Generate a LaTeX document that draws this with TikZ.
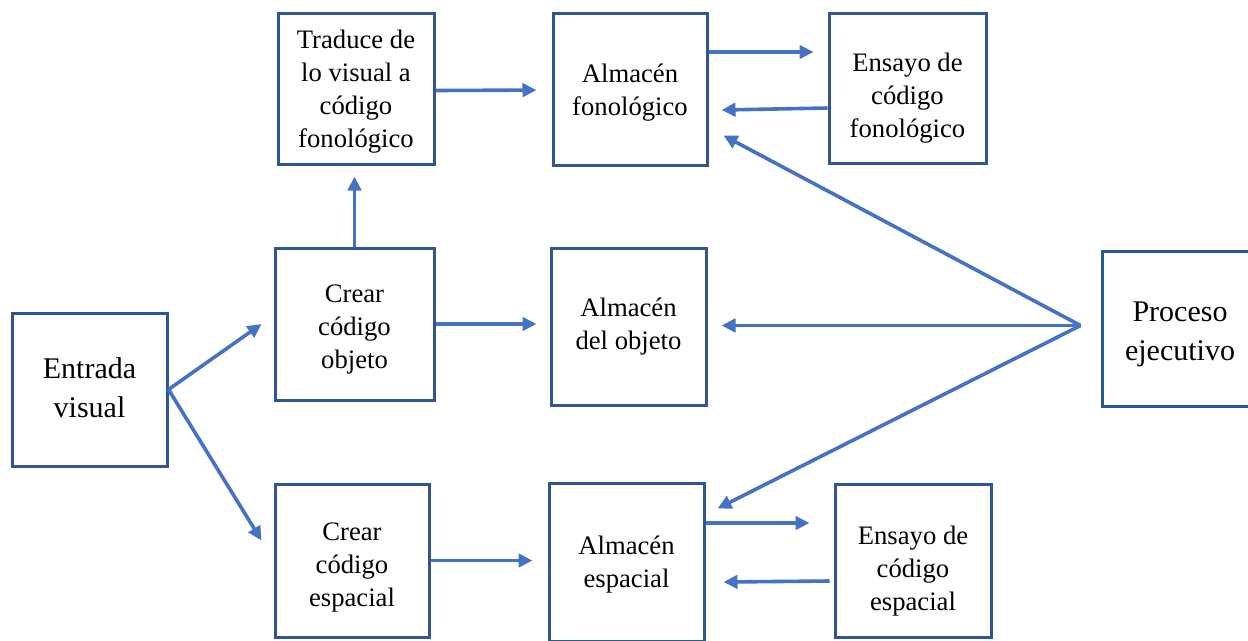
\documentclass[tikz,border=0pt]{standalone}
\usepackage{fontspec}
\setmainfont{Liberation Serif}
\usetikzlibrary{arrows.meta,calc}
\definecolor{boxblue}{HTML}{2F5597}
\definecolor{arrowblue}{HTML}{4472C4}
\begin{document}
\begin{tikzpicture}[x=0.75pt,y=-0.75pt,
  box/.style={draw=boxblue,line width=2.25pt,fill=white,inner sep=0pt},
  txt/.style={align=center,inner sep=0pt,font=\fontsize{20}{24.75}\selectfont},
  bigtxt/.style={txt,font=\fontsize{22.5}{29}\selectfont},
  arr/.style={draw=arrowblue,line width=2.7pt,-{Triangle[length=10.5pt,width=10pt]}}]
\useasboundingbox (0,0) rectangle (1248,640);
\clip (0,0) rectangle (1248,640);

% boxes
\node[box,minimum width=116.25pt,minimum height=114.75pt] (ent) at (89.5,389.5) {};
\node[box,minimum width=117pt,minimum height=113.25pt] (trad) at (356,88.5) {};
\node[box,minimum width=119.25pt,minimum height=114pt] (cobj) at (354.5,324) {};
\node[box,minimum width=115.5pt,minimum height=114.75pt] (cesp) at (352,560.5) {};
\node[box,minimum width=115.5pt,minimum height=114pt] (afon) at (630,89) {};
\node[box,minimum width=116.25pt,minimum height=117.75pt] (aobj) at (628.5,326.5) {};
\node[box,minimum width=116.25pt,minimum height=118.5pt] (aesp) at (626.5,562) {};
\node[box,minimum width=117.75pt,minimum height=112.5pt] (efon) at (907.5,88) {};
\node[box,minimum width=117pt,minimum height=114.75pt] (eesp) at (913,560.5) {};
\node[box,minimum width=117pt,minimum height=116.25pt] (proc) at (1180,328.5) {};

% box texts
\node[bigtxt] (ent-t) at ($(ent)+(0,-2)$) {Entrada\\visual};
\node[txt] (trad-t) at ($(trad)+(0,3)$) {Traduce de\\lo visual a\\código\\fonológico};
\node[txt] (cobj-t) at ($(cobj)+(0,6)$) {Crear\\código\\objeto};
\node[txt] (cesp-t) at ($(cesp)+(0,6.5)$) {Crear\\código\\espacial};
\node[txt] (afon-t) at ($(afon)+(0,3.5)$) {Almacén\\fonológico};
\node[txt] (aobj-t) at ($(aobj)+(0,0.5)$) {Almacén\\del objeto};
\node[txt] (aesp-t) at ($(aesp)+(0,3)$) {Almacén\\espacial};
\node[txt] (efon-t) at ($(efon)+(0,10)$) {Ensayo de\\código\\fonológico};
\node[txt] (eesp-t) at ($(eesp)+(0,11)$) {Ensayo de\\código\\espacial};
\node[bigtxt] (proc-t) at ($(proc)+(0,6)$) {Proceso\\ejecutivo};

% input fan-out
\draw[arr] (ent.east) -- ($(cobj.west)+(-12,0)$);
\draw[arr] (ent.east) -- ($(cesp.west)+(-12,-20)$);

% coding to stores
\draw[arr,shorten >=8.25pt] (cobj.north) -- (cobj.north |- trad.south);
\draw[arr,shorten >=11.25pt] ($(trad.east)+(0,2)$) -- ($(afon.west)+(0,1)$);
\draw[arr,shorten >=9.75pt] (cobj.east) -- (cobj.east -| aobj.west);
\draw[arr,shorten >=11.25pt] (cesp.east) -- (cesp.east -| aesp.west);

% rehearsal loops
\draw[arr] ($(afon.east)+(0,-37)$) -- ($(efon.west)+(-14,-36)$);
\draw[arr] ($(efon.west)+(0,20)$) -- ($(afon.east)+(13,21)$);
\draw[arr] ($(aesp.east)+(0,-39)$) -- ($(eesp.west)+(-24,-37.5)$);
\draw[arr] ($(eesp.west)+(-4,20.5)$) -- ($(aesp.east)+(18,20)$);

% executive control
\coordinate (pe) at ($(proc.west)+(-20,-3)$);
\draw[arr] (pe) -- ($(afon.south east)+(15,-31)$);
\draw[arr] (pe) -- ($(aobj.east)+(14,-1)$);
\draw[arr] (pe) -- ($(aesp.north east)+(12,27)$);
\end{tikzpicture}
\end{document}
